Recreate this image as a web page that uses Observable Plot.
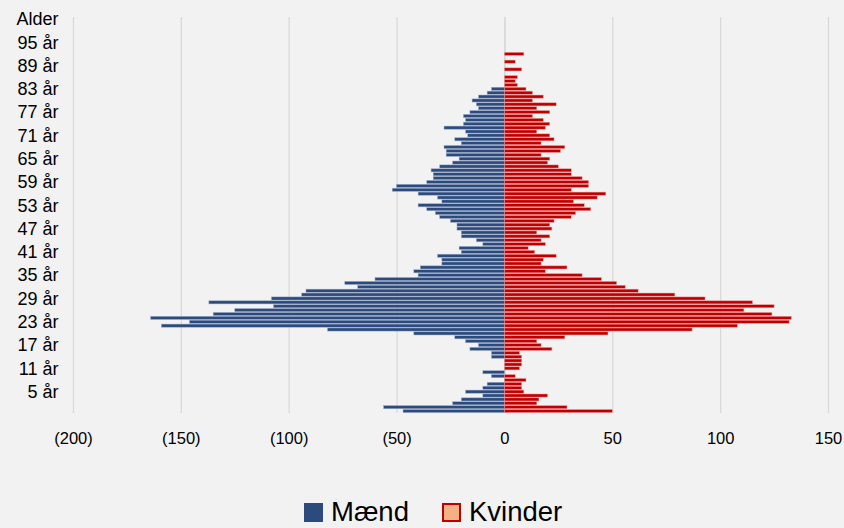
<!DOCTYPE html>
<html>
<head>
<meta charset="utf-8">
<script src="https://cdn.jsdelivr.net/npm/d3@7"></script>
<script src="https://cdn.jsdelivr.net/npm/@observablehq/plot@0.6"></script>
<style>
  html, body { margin: 0; padding: 0; background: #f2f2f2; overflow: hidden; }
  #wrap { position: relative; width: 844px; height: 528px; background: #f2f2f2; font-family: "Liberation Sans", Arial, sans-serif; }
  .lg-box { position: absolute; box-sizing: border-box; }
  .lg-text { position: absolute; font-size: 27.5px; line-height: 20px; height: 20px; color: #000; white-space: nowrap; }
</style>
</head>
<body>
<div id="wrap"></div>
<script>
// Categories: ages 0..100, plus the header category "Alder" on top
const ages = d3.range(0, 101);
const headerLabel = "Alder";
const tickAges = [5, 11, 17, 23, 29, 35, 41, 47, 53, 59, 65, 71, 77, 83, 89, 95];
const xTicks = [-200, -150, -100, -50, 0, 50, 100, 150];
const seriesNames = ["Mænd", "Kvinder"];

// Men per age 0..100
const men = [47,56,24,20,10,18,10,8,0,6,
             10,0,0,0,6,6,16,12,18,23,
             42,82,159,146,164,135,125,107,137,108,
             94,92,68,74,60,40,42,39,29,29,
             31,20,21,10,13,20,20,22,22,25,
             30,32,36,40,29,31,40,52,50,36,
             33,33,34,30,24,21,27,27,28,20,
             23,17,18,28,19,18,19,16,12,13,
             15,12,8,6,0,0,0,0,0,0,
             0,0,0,0,0,0,0,0,0,0,
             0];
// Women per age 0..100
const women = [50,29,15,16,20,9,8,8,10,5,
               0,7,8,8,8,7,22,17,15,28,
               48,87,108,132,133,124,111,125,115,93,
               79,62,56,52,45,36,19,29,17,18,
               24,14,11,19,17,21,15,22,21,23,
               31,33,40,37,32,43,47,31,39,39,
               36,31,31,25,20,21,17,26,28,17,
               23,21,15,19,21,18,13,21,15,24,
               13,18,13,10,6,5,6,0,8,0,
               5,0,9,0,0,0,0,0,0,0,
               0];

const rows = [];
ages.forEach((a, i) => {
  rows.push({age: a, sex: seriesNames[0], v: -men[i]});
  rows.push({age: a, sex: seriesNames[1], v: women[i]});
});

const HEADER = 101;
const yDomain = [HEADER, ...ages.slice().reverse()];

const chart = Plot.plot({
  width: 844,
  height: 460,
  marginTop: 17,
  marginBottom: 47,
  marginLeft: 73,
  marginRight: 16,
  style: {background: "#f2f2f2", fontFamily: "Liberation Sans, Arial, sans-serif", color: "#000"},
  x: {domain: [-200, 150]},
  y: {type: "band", domain: yDomain, paddingInner: 0.2, paddingOuter: 0.1},
  color: {domain: seriesNames, range: ["#2c4a7c", "#c00000"]},
  marks: [
    Plot.ruleX(xTicks.filter(d => d !== 0), {stroke: "#d9d9d9", strokeWidth: 1.3}),
    Plot.ruleX([0], {stroke: "#d9d9d9", strokeWidth: 1.8}),
    Plot.barX(rows.filter(d => d.v !== 0), {
      x1: 0, x2: "v", y: "age", fill: "sex",
      stroke: d => d.sex === seriesNames[0] ? "#9aaac8" : "#eaa0a0",
      strokeWidth: 0.5
    }),
    Plot.axisX({ticks: xTicks, tickSize: 0, tickPadding: 19, fontSize: 16.5, label: null,
      tickFormat: d => d < 0 ? `(${-d})` : `${d}`}),
    Plot.axisY({ticks: [...tickAges, HEADER], tickSize: 0, tickPadding: 15, fontSize: 18, label: null,
      tickFormat: d => d === HEADER ? headerLabel : `${d} år`})
  ]
});

const wrap = document.getElementById("wrap");
wrap.appendChild(chart);

// Legend below the chart
function addLegend(left, boxStyle, textLeft, text) {
  const b = document.createElement("div");
  b.className = "lg-box";
  Object.assign(b.style, {left: left + "px", top: "503px", width: "19px", height: "19px"}, boxStyle);
  wrap.appendChild(b);
  const t = document.createElement("div");
  t.className = "lg-text";
  t.textContent = text;
  Object.assign(t.style, {left: textLeft + "px", top: "502px"});
  wrap.appendChild(t);
}
addLegend(304, {background: "#2c4a7c"}, 331, seriesNames[0]);
addLegend(442, {background: "#f4b183", border: "2px solid #c00000"}, 469, seriesNames[1]);
</script>
</body>
</html>
